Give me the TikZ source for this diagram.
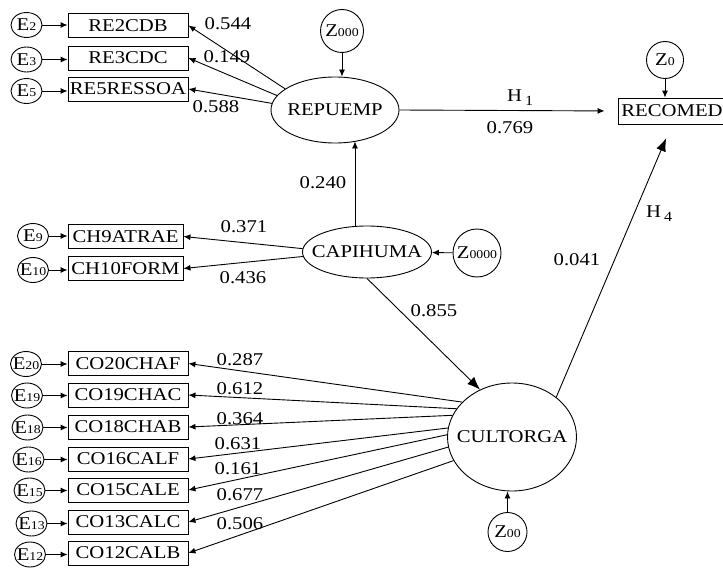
\documentclass[tikz,border=0pt]{standalone}
\usepackage{fontspec}
\setmainfont{Liberation Serif}[FakeStretch=1.15]
\usepackage{tikz}
\usetikzlibrary{arrows.meta,shapes.geometric}
\newcommand{\tinyidx}[1]{{\fontsize{12}{12}\selectfont #1}}
\newcommand{\hyp}[1]{H\,\raisebox{-4pt}{\fontsize{14}{14}\selectfont #1}}
\newcommand{\ctext}[1]{\makebox[0pt]{#1}}
\newcommand{\indic}[6][]{\node[obs,#1] (#2) at (#3) {#4};
    \node[err] (e#2) at (#5) {\ctext{E\tinyidx{#6}}};
    \draw[arr] (e#2.east) -- (e#2.east -| #2.west);}
\tikzset{
    obs/.style={draw, rectangle, line width=0.9pt, minimum width=120pt, minimum height=24pt, inner sep=0pt},
    lat/.style={draw, ellipse, line width=0.9pt, inner sep=0pt},
    err/.style={draw, ellipse, line width=0.9pt, inner sep=0pt, minimum width=31pt, minimum height=25pt},
    dist/.style={draw, circle, line width=0.9pt, inner sep=0pt},
    arr/.style={line width=0.9pt, -{Latex[length=7pt,width=6pt]}},
    bigarr/.style={line width=0.9pt, -{Latex[length=13pt,width=10pt]}},
    coef/.style={inner sep=0pt}
}

\begin{document}
\begin{tikzpicture}[x=1pt, y=-1pt, font=\fontsize{18}{20}\selectfont]

    \useasboundingbox (0,0) rectangle (723,578);

    % latent variables
    \node[lat, minimum width=128pt, minimum height=66pt] (rep) at (335,110) {\ctext{REPUEMP}};
    \node[lat, minimum width=129pt, minimum height=52pt] (capi) at (367,252) {\ctext{CAPIHUMA}};
    \node[lat, minimum width=129pt, minimum height=108pt] (cult) at (512,437) {\ctext{CULTORGA}};
    \node[obs, minimum width=108pt, minimum height=26pt] (rec) at (672,111) {\ctext{RECOMED}};

    \node[dist, minimum size=43pt] (z000) at (342,31) {\ctext{Z\tinyidx{000}}};
    \node[dist, minimum size=37pt] (z0) at (665,60) {\ctext{Z\tinyidx{0}}};
    \node[dist, minimum size=48pt] (z0000) at (477,253) {\ctext{Z\tinyidx{0000}}};
    \node[dist, minimum size=39pt] (z00) at (507.5,532) {\ctext{Z\tinyidx{00}}};

    \draw[arr] (z000) -- (z000 |- rep.north);
    \draw[arr] (z0) -- (z0 |- rec.north);
    \draw[arr] (z0000) -- (capi);
    \draw[arr] (z00) -- (z00 |- cult.south);

    % indicators
    \indic{re2}{128,25.5}{RE2CDB}{26.5,25}{2}
    \indic{re3}{128,58}{RE3CDC}{26.5,59.5}{3}
    \indic{re5}{128,89}{RE5RESSOA}{26.5,91}{5}

    \indic[minimum width=115pt]{ch9}{125.5,236.5}{CH9ATRAE}{33,236}{9}
    \indic[minimum width=115pt]{ch10}{125.5,268.5}{CH10FORM}{33,270}{10}

    \indic{co20}{128,363.5}{CO20CHAF}{26,364}{20}
    \indic{co19}{128,395}{CO19CHAC}{27,395.5}{19}
    \indic{co18}{128,427}{CO18CHAB}{27.5,427.5}{18}
    \indic{co16}{128,459}{CO16CALF}{28.5,459.5}{16}
    \indic{co15}{128,490}{CO15CALE}{29.5,490.5}{15}
    \indic{co13}{128,522}{CO13CALC}{31.5,523.5}{13}
    \indic{co12}{128,553}{CO12CALB}{30,554.5}{12}

    % loadings
    \draw[arr] (rep.157) -- (re2.east);
    \draw[arr] (rep.166) -- (re3.east);
    \draw[arr] (rep.174) -- (re5.east);
    \draw[arr] (capi.177) -- (ch9.east);
    \draw[arr] (capi.184) -- (ch10.east);
    \draw[arr] (cult.145) -- (co20.east);
    \draw[arr] (cult.153) -- (co19.east);
    \draw[arr] (cult.160) -- (co18.east);
    \draw[arr] (cult.172) -- (co16.east);
    \draw[arr] (cult.178) -- (co15.east);
    \draw[arr] (cult.189) -- (co13.east);
    \draw[arr] (cult.202) -- (co12.east);

    \node[coef] (l544) at (228,24) {0.544};
    \node[coef] (l149) at (227,57) {0.149};
    \node[coef] (l588) at (216,107) {0.588};
    \node[coef] (l371) at (244,227) {0.371};
    \node[coef] (l436) at (243,278) {0.436};
    \node[coef] (l287) at (240,360) {0.287};
    \node[coef] (l612) at (240,389) {0.612};
    \node[coef] (l364) at (240,418.5) {0.364};
    \node[coef] (l631) at (238,443.5) {0.631};
    \node[coef] (l161) at (238,468.5) {0.161};
    \node[coef] (l677) at (240,495) {0.677};
    \node[coef] (l506) at (240,523.5) {0.506};

    % structural paths
    \draw[arr, shorten >=13pt] (rep.east) -- (rec.west);
    \draw[bigarr, shorten >=15pt] (cult.42) -- (rec.south);
    \draw[bigarr] (capi.south) -- (cult.124);
    \draw[arr] ([xshift=-12pt]capi.north) -- ([xshift=20pt,yshift=2pt]rep.south);

    \node[coef, anchor=base west] (h1) at (507,101) {\hyp{1}};
    \node[coef] (l769) at (510,128) {0.769};
    \node[coef, anchor=base west] (h4) at (646,217) {\hyp{4}};
    \node[coef] (l041) at (577,260) {0.041};
    \node[coef] (l240) at (323,183) {0.240};
    \node[coef] (l855) at (434,311) {0.855};

\end{tikzpicture}
\end{document}
